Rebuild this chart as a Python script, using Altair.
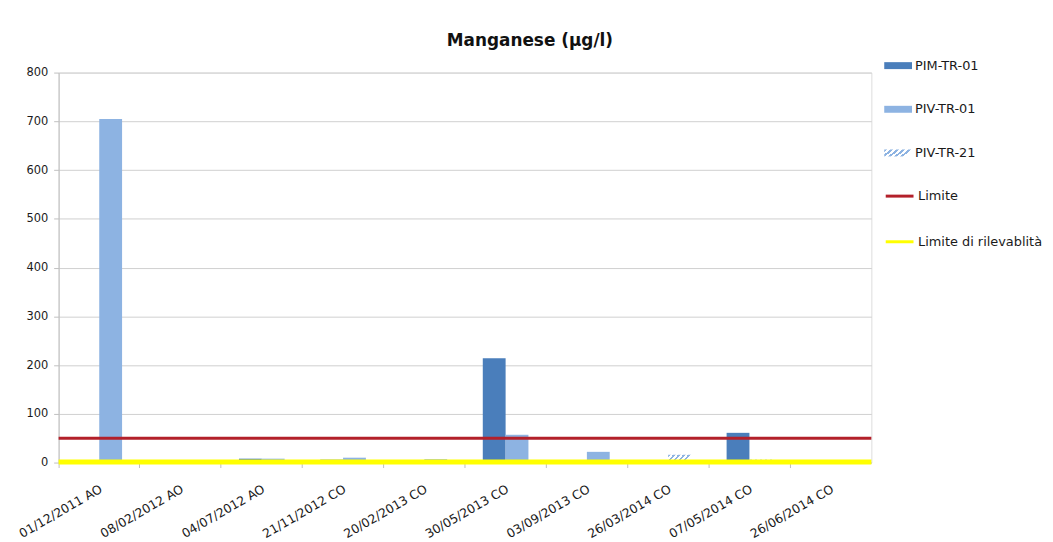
import altair as alt
import pandas as pd

categories = ["01/12/2011 AO", "08/02/2012 AO", "04/07/2012 AO", "21/11/2012 CO",
              "20/02/2013 CO", "30/05/2013 CO", "03/09/2013 CO", "26/03/2014 CO",
              "07/05/2014 CO", "26/06/2014 CO"]
pim_tr_01 = [None, None, 8, 6, None, 214, None, None, 61, None]
piv_tr_01 = [705, None, 8, 10, 7, 57, 22, None, None, None]
piv_tr_21 = [None, None, None, None, None, None, None, 16, 6, None]

series_names = ["PIM-TR-01", "PIV-TR-01", "PIV-TR-21"]
series_slots = ["a", "b", "b"]
series_colors = ["#4a7ebb", "#8db3e2", "#8db3e2"]

limit_names = ["Limite", "Limite di rilevablità"]
limit_values = [50, 1]
limit_colors = ["#b3202a", "#ffff00"]
limit_widths = [3, 5]

y_ticks = [0, 100, 200, 300, 400, 500, 600, 700, 800]
title_text = "Manganese (µg/l)"

FONT = "DejaVu Sans"

rows = []
for name, slot, vals in zip(series_names, series_slots, [pim_tr_01, piv_tr_01, piv_tr_21]):
    for cat, v in zip(categories, vals):
        if v is not None:
            rows.append({"date": cat, "series": name, "slot": slot, "value": v})
bars_df = pd.DataFrame(rows)
limits_df = pd.DataFrame({"name": limit_names, "value": limit_values, "w": limit_widths})


def hatch_expr(color, n=5):
    stops = []
    for i in range(n):
        a = i / n
        b = (i + 0.5) / n
        c = (i + 1) / n
        stops += [
            "{offset:%g,color:'%s'}" % (a, color),
            "{offset:%g,color:'%s'}" % (b, color),
            "{offset:%g,color:'#ffffff'}" % b,
            "{offset:%g,color:'#ffffff'}" % c,
        ]
    return "{gradient:'linear',x1:0,y1:0,x2:1,y2:0.3,stops:[" + ",".join(stops) + "]}"


fill_range = [series_colors[0], series_colors[1], alt.ExprRef(expr=hatch_expr(series_colors[2]))]

bars = alt.Chart(bars_df).mark_bar(strokeWidth=0).encode(
    x=alt.X("date:N", sort=categories, title=None,
            scale=alt.Scale(domain=categories, paddingInner=0, paddingOuter=0),
            axis=alt.Axis(labelAngle=-30, labelAlign="right", labelBaseline="top",
                          labelFont=FONT, labelFontSize=12.5, labelColor="#1a1a1a",
                          bandPosition=0, labelOffset=-1, tickSize=5, labelPadding=15,
                          tickColor="#bfbfbf", domainColor="#bfbfbf", grid=False)),
    xOffset=alt.XOffset("slot:N", scale=alt.Scale(domain=["a", "b"], paddingInner=0, paddingOuter=0.78)),
    y=alt.Y("value:Q", title=None,
            scale=alt.Scale(domain=[0, 800], nice=False),
            axis=alt.Axis(values=y_ticks, labelFont=FONT, labelFontSize=11.5, labelColor="#1a1a1a",
                          tickSize=5, labelPadding=6, tickColor="#bfbfbf", domainColor="#bfbfbf",
                          gridColor="#d0d0d0")),
    fill=alt.Fill("series:N", scale=alt.Scale(domain=series_names, range=fill_range),
                  legend=alt.Legend(title=None, orient="none", legendX=839, legendY=-14,
                                    symbolType="M-2,-0.5H2V0.5H-2Z", symbolSize=196,
                                    symbolStrokeWidth=0, rowPadding=30, labelOffset=10,
                                    labelFont=FONT, labelFontSize=13, labelColor="#1a1a1a",
                                    labelLimit=300)),
)

rules = alt.Chart(limits_df).mark_rule().encode(
    y="value:Q",
    stroke=alt.Stroke("name:N", scale=alt.Scale(domain=limit_names, range=limit_colors),
                      legend=alt.Legend(title=None, orient="none", legendX=839, legendY=116,
                                        symbolType="M-2,0H2", symbolSize=196,
                                        symbolStrokeWidth=3, rowPadding=30, labelOffset=10,
                                        labelFont=FONT, labelFontSize=13, labelColor="#1a1a1a",
                                        labelLimit=300)),
    strokeWidth=alt.StrokeWidth("w:Q", scale=None, legend=None),
)

chart = alt.layer(bars, rules).properties(
    width=819, height=393,
    title=alt.TitleParams(title_text, font=FONT, fontSize=17, fontWeight="bold", color="#111111",
                          anchor="middle", frame="bounds", offset=9),
    padding={"left": 8, "top": 22, "right": 2, "bottom": 2},
).configure_view(stroke=None).configure(background="white")

chart.save("out.html", embed_options={"renderer": "svg", "actions": False})
